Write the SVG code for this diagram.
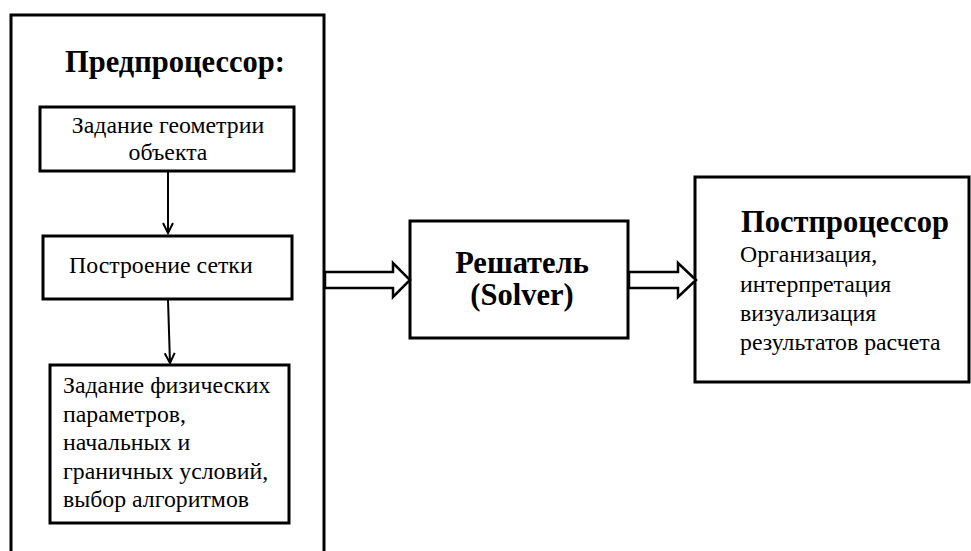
<svg xmlns="http://www.w3.org/2000/svg" width="971" height="551" viewBox="0 0 971 551">
<style>
.box{fill:#fff;stroke:#000;stroke-width:3}
text{font-family:"Liberation Serif","Times New Roman",Times,serif;fill:#000}
.r{font-size:23.8px}
.b{font-weight:bold;font-size:30.5px}
.ln{stroke:#000;stroke-width:2;fill:none}
.ha{fill:#fff;stroke:#000;stroke-width:2.5;stroke-linejoin:miter}
</style>
<defs>
<marker id="ah" markerWidth="14" markerHeight="14" refX="11" refY="6" orient="auto" markerUnits="userSpaceOnUse">
<path d="M1,1 L11,6 L1,11" fill="none" stroke="#000" stroke-width="2"/>
</marker>
</defs>
<rect width="971" height="551" fill="#fff"/>
<g id="preprocessor">
<rect class="box" x="11" y="15" width="313" height="560"/>
<text class="b" x="65" y="72">Предпроцессор:</text>
</g>
<g id="geometry">
<rect class="box" x="40" y="107" width="254" height="64"/>
<text class="r" x="168" y="133" text-anchor="middle">Задание геометрии</text>
<text class="r" x="168" y="160" text-anchor="middle">объекта</text>
</g>
<g id="mesh">
<rect class="box" x="43" y="236" width="249" height="63"/>
<text class="r" x="69" y="273">Построение  сетки</text>
</g>
<g id="physics">
<rect class="box" x="50" y="365" width="239" height="158"/>
<text class="r" x="63" y="393">Задание физических</text>
<text class="r" x="63" y="422">параметров,</text>
<text class="r" x="63" y="450">начальных и</text>
<text class="r" x="63" y="479">граничных условий,</text>
<text class="r" x="63" y="507">выбор алгоритмов</text>
</g>
<g id="solver">
<rect class="box" x="410" y="221" width="218" height="117"/>
<text class="b" x="522" y="273" text-anchor="middle">Решатель</text>
<text class="b" x="522" y="305" text-anchor="middle">(Solver)</text>
</g>
<g id="postprocessor">
<rect class="box" x="695" y="177" width="274" height="205"/>
<text class="b" x="741" y="232">Постпроцессор</text>
<text class="r" x="740" y="262">Организация,</text>
<text class="r" x="740" y="292">интерпретация</text>
<text class="r" x="740" y="321">визуализация</text>
<text class="r" x="740" y="350">результатов  расчета</text>
</g>
<g id="connectors">
<line class="ln" x1="168" y1="172" x2="168" y2="233" marker-end="url(#ah)"/>
<line class="ln" x1="168" y1="300" x2="170" y2="363" marker-end="url(#ah)"/>
<path class="ha" d="M325,272 L393,272 L393,263 L410,280 L393,297 L393,288 L325,288 Z"/>
<path class="ha" d="M629,272 L678,272 L678,263 L696,280 L678,297 L678,288 L629,288 Z"/>
</g>
</svg>
